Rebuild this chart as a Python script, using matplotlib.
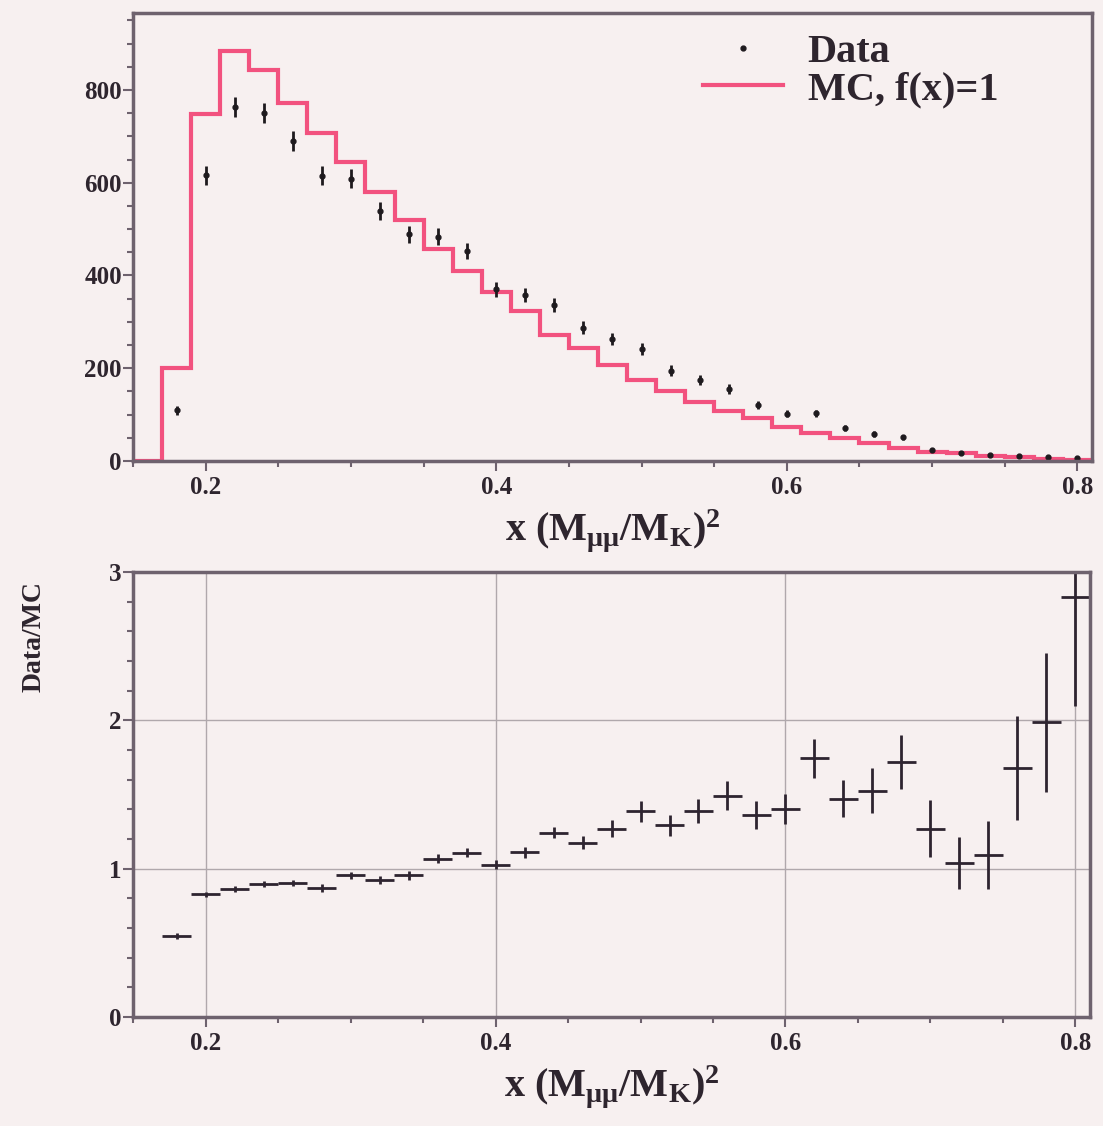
import numpy as np
import matplotlib
matplotlib.use("Agg")
import matplotlib.pyplot as plt
from matplotlib.ticker import MultipleLocator
from matplotlib.lines import Line2D

# Binning: 0.02 wide bins in x = (M_mumu/M_K)^2
bin_edges = np.round(np.arange(0.15, 0.8101, 0.02), 2)
mc_counts = [0, 200, 748, 883, 844, 772, 707, 644, 581, 520,
             458, 409, 364, 323, 272, 244, 208, 175, 150, 128,
             107, 92, 74, 60, 49, 38, 27, 20, 17, 11,
             8, 4, 2]

x_data = np.round(np.arange(0.18, 0.8001, 0.02), 2)
data_counts = [109, 616, 763, 750, 690, 615, 609, 539, 489, 484,
               453, 370, 357, 337, 287, 263, 241, 195, 175, 155,
               121, 102, 103, 71, 58, 51, 24, 18, 13, 11,
               8, 6]
data_err = [9, 20, 22, 22, 21, 20, 20, 19, 18, 18,
            17, 16, 15, 15, 14, 13, 13, 12, 11, 10,
            9, 8, 8, 7, 6, 6, 4, 4, 3, 3,
            3, 2]

ratio = [0.544, 0.826, 0.865, 0.898, 0.903, 0.869, 0.955, 0.925, 0.955, 1.068,
         1.108, 1.027, 1.11, 1.243, 1.175, 1.27, 1.386, 1.293, 1.391, 1.493,
         1.364, 1.402, 1.743, 1.47, 1.527, 1.72, 1.27, 1.04, 1.09, 1.68,
         1.986, 2.834]
ratio_err = [0.02, 0.02, 0.02, 0.02, 0.02, 0.025, 0.025, 0.025, 0.03, 0.03,
             0.03, 0.03, 0.035, 0.035, 0.045, 0.055, 0.07, 0.07, 0.08, 0.1,
             0.095, 0.1, 0.13, 0.125, 0.15, 0.18, 0.19, 0.175, 0.23, 0.35,
             0.47, 0.74]

bg = '#f7f0f0'
frame = '#6e626e'
ink = '#2e252e'
pink = '#f2527f'

plt.rcParams['font.family'] = ['Liberation Serif', 'DejaVu Serif']
plt.rcParams['font.weight'] = 'bold'
plt.rcParams['axes.labelweight'] = 'bold'
plt.rcParams['mathtext.fontset'] = 'custom'
plt.rcParams['mathtext.rm'] = 'Liberation Serif:bold'
plt.rcParams['mathtext.it'] = 'Liberation Serif:bold'
plt.rcParams['mathtext.bf'] = 'Liberation Serif:bold'

fig = plt.figure(figsize=(11.03, 11.26), dpi=100, facecolor=bg)
ax1 = fig.add_axes([0.1206, 0.5906, 0.8694, 0.3979], facecolor=bg)
ax2 = fig.add_axes([0.1206, 0.0968, 0.8676, 0.3952], facecolor=bg)

xlabel = r'x (M$_{\mu\mu}$/M$_{K}$)$^{2}$'


def style_axis(ax):
    for s in ax.spines.values():
        s.set_color(frame)
        s.set_linewidth(2.5)
    ax.tick_params(which='both', direction='out', colors=frame,
                   labelcolor=ink, labelsize=18, width=1.5)
    ax.tick_params(which='major', length=7)
    ax.tick_params(which='minor', length=4)
    ax.tick_params(axis='y', pad=1)
    ax.set_xlim(0.15, 0.81)
    ax.xaxis.set_major_locator(MultipleLocator(0.2))
    ax.xaxis.set_minor_locator(MultipleLocator(0.05))
    ax.set_xlabel(xlabel, fontsize=29, color=ink, fontweight='bold', labelpad=6)
    for lab in ax.get_xticklabels() + ax.get_yticklabels():
        lab.set_fontweight('bold')


# Top panel: distribution
ax1.stairs(mc_counts, bin_edges, color=pink, lw=3)
ax1.errorbar(x_data, data_counts, yerr=data_err, fmt='o', ms=3.5,
             color='#1e1a1e', ecolor='#1e1a1e', elinewidth=2, capsize=0)
ax1.set_ylim(0, 966)
ax1.yaxis.set_major_locator(MultipleLocator(200))
ax1.yaxis.set_minor_locator(MultipleLocator(50))
style_axis(ax1)

handles = [Line2D([], [], ls='none', marker='o', ms=3.5, color='#1e1a1e'),
           Line2D([], [], color=pink, lw=3)]
leg = ax1.legend(handles, ['Data', 'MC, f(x)=1'], loc='upper right',
                 bbox_to_anchor=(0.94, 1.035), frameon=False, fontsize=29,
                 handlelength=2.0, handletextpad=0.6, labelspacing=0.0,
                 labelcolor=ink)
for t in leg.get_texts():
    t.set_fontweight('bold')

# Bottom panel: ratio
ax2.grid(True, which='major', color='#b0a8ac', lw=1)
ax2.set_axisbelow(True)
ax2.errorbar(x_data, ratio, xerr=0.01, yerr=ratio_err, fmt='none',
             ecolor='#2e2430', elinewidth=2, capsize=0)
ax2.set_ylim(0, 3)
ax2.yaxis.set_major_locator(MultipleLocator(1))
ax2.yaxis.set_minor_locator(MultipleLocator(0.2))
style_axis(ax2)
ax2.set_ylabel('Data/MC', fontsize=20, color=ink, fontweight='bold')
ax2.yaxis.set_label_coords(-0.09, 0.855)

fig.savefig('out.png', dpi=100, facecolor=bg)
